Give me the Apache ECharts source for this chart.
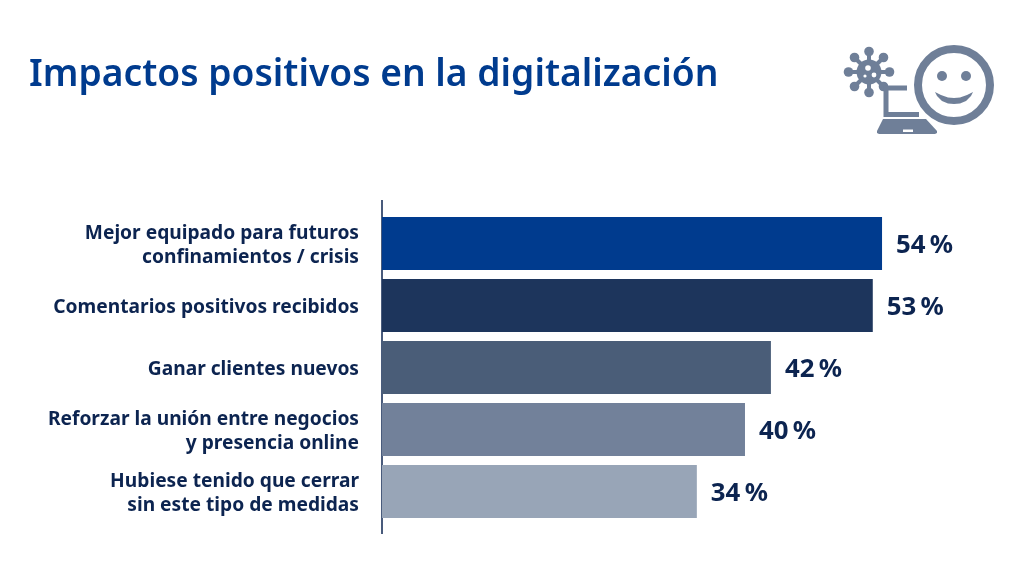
<!DOCTYPE html>
<html><head><meta charset="utf-8">
<style>html,body{margin:0;padding:0;background:#fff}#c{width:1024px;height:577px}</style>
<script src="https://cdn.jsdelivr.net/npm/echarts@6/dist/echarts.min.js"></script>
</head><body><div id="c"></div>
<script>
const categories = ["Mejor equipado para futuros\nconfinamientos / crisis","Comentarios positivos recibidos","Ganar clientes nuevos","Reforzar la unión entre negocios\ny presencia online","Hubiese tenido que cerrar\nsin este tipo de medidas"];
const barLengths = [54,53,42,39.2,34];
const labels = ["54","53","42","40","34"];
const colors = ["#003b8e","#1d355c","#4a5d78","#72819a","#98a5b7"];
const titleText = "Impactos positivos en la digitalización";
const ink = "#0c2450", iconCol = "#6f7f98";

const chart = echarts.init(document.getElementById('c'), null, {renderer:'canvas'});
const spokes = [0,45,90,135,180,225,270,315];
const cx=869, cy=72;
const virus = [];
spokes.forEach(a=>{
  const r=a*Math.PI/180, x=cx+20.5*Math.cos(r), y=cy+20.5*Math.sin(r);
  virus.push({type:'line',shape:{x1:cx,y1:cy,x2:x,y2:y},style:{stroke:iconCol,lineWidth:4}});
  virus.push({type:'circle',shape:{cx:x,cy:y,r:4.8},style:{fill:iconCol}});
});
virus.push({type:'circle',shape:{cx,cy,r:12.5},style:{fill:iconCol}});
[[868,68,2.8],[874,75,2.4],[865,76,1.6]].forEach(h=>virus.push({type:'circle',shape:{cx:h[0],cy:h[1],r:h[2]},style:{fill:'#fff'}}));

const tokenBase = {fontFamily:'Noto Sans',fontWeight:700,fontSize:19.2,lineHeight:24,color:ink,align:'right'};
chart.setOption({
  animation:false,
  backgroundColor:'#fff',
  title:{text:titleText,left:24,top:52,textStyle:{fontFamily:'Noto Sans',fontWeight:600,fontSize:37.2,color:'#003b8e'}},
  grid:{left:382,right:86.4,top:212.5,bottom:54.5,containLabel:false},
  xAxis:{type:'value',min:0,max:60,show:false},
  yAxis:{type:'category',inverse:true,data:categories,
    axisLine:{show:false},axisTick:{show:false},
    axisLabel:{margin:23,align:'right',color:ink,
      formatter:v=>{const p=v.split('\n');return p.length>1?`{f|${p[0]}}\n{a|${p[1]}}`:`{t|${p[0]}}`;},
      rich:{t:{...tokenBase,padding:[4,0,0,0]},f:{...tokenBase,lineHeight:28,padding:[8,0,0,0]},a:{...tokenBase,lineHeight:28}}}},
  series:[{type:'bar',barWidth:53,
    data:barLengths.map((v,i)=>({value:v,itemStyle:{color:colors[i]},
      label:{formatter:labels[i]+'\u2009%'}})),
    label:{show:true,position:'right',distance:14,offset:[0,2],fontFamily:'Noto Sans',fontWeight:700,fontSize:25.8,color:ink}}],
  graphic:[
    {type:'line',shape:{x1:382,y1:200,x2:382,y2:534},style:{stroke:ink,lineWidth:1.5}},
    ...virus,
    {type:'polyline',shape:{points:[[907,88],[886,88],[886,114.5],[919,114.5]]},style:{stroke:iconCol,lineWidth:5,fill:null}},
    {type:'polygon',shape:{points:[[883,119],[926,119],[937,131],[937,133],[935,134],[879,134],[877,133],[877,131]]},style:{fill:iconCol}},
    {type:'rect',shape:{x:903,y:129.5,width:10,height:2.5},style:{fill:'#fff'}},
    {type:'circle',shape:{cx:954,cy:85,r:36},style:{fill:'#fff',stroke:iconCol,lineWidth:8}},
    {type:'circle',shape:{cx:942,cy:76,r:5},style:{fill:iconCol}},
    {type:'circle',shape:{cx:966,cy:76,r:5},style:{fill:iconCol}},
    {type:'polygon',shape:{points:[[935,92],[941,95],[948,97.5],[954,98],[960,97.5],[967,95],[973,92],[971,96],[966,101],[960,103.5],[954,104],[948,103.5],[942,101],[937,96]]},style:{fill:iconCol}}
  ]
});
</script></body></html>
